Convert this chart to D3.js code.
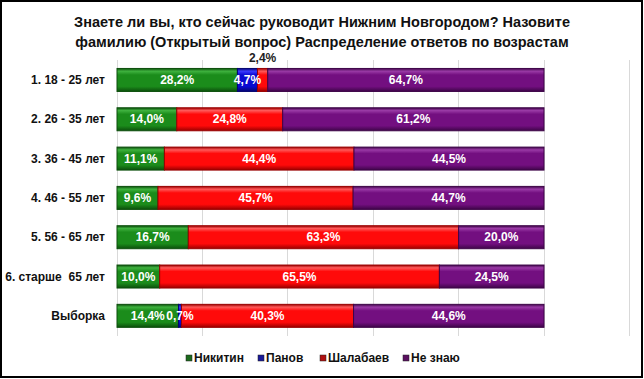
<!DOCTYPE html>
<html><head><meta charset="utf-8">
<script src="https://cdn.jsdelivr.net/npm/d3@7"></script>
<style>
html,body{margin:0;padding:0;background:#fff;}
svg{display:block;font-family:"Liberation Sans",Arial,sans-serif;}
text{white-space:pre;}
</style></head>
<body><svg id="c" width="644" height="379"></svg>
<script>
const titleLines = ["Знаете ли вы, кто сейчас руководит Нижним Новгородом? Назовите",
                    "фамилию (Открытый вопрос) Распределение ответов по возрастам"];
const categories = ["1. 18 - 25 лет","2. 26 - 35 лет","3. 36 - 45 лет","4. 46 - 55 лет","5. 56 - 65 лет","6. старше  65 лет","Выборка"];
const seriesNames = ["Никитин","Панов","Шалабаев","Не знаю"];
const nikitin   = [28.2,14.0,11.1, 9.6,16.7,10.0,14.4];
const panov     = [ 4.7, 0,   0,   0,   0,   0,   0.7];
const shalabaev = [ 2.4,24.8,44.4,45.7,63.3,65.5,40.3];
const neZnayu   = [64.7,61.2,44.5,44.7,20.0,24.5,44.6];
const xTicks = [0,20,40,60,80,100,120];

const seriesValues = [nikitin, panov, shalabaev, neZnayu];
const colors = ["#1b8c1b","#0a0ad2","#ff0a0a","#730f80"];
const lightColors = ["#3fb23f","#3a3aff","#ff5a5a","#9a3aa6"];
const darkColors = ["#0c4f0c","#050570","#9a0000","#3e0548"];
const legendColors = ["#1c6a1c","#1a1a99","#b01010","#5a1060"];

const svg = d3.select("#c");
const defs = svg.append("defs");
colors.forEach((c,i)=>{
  const g = defs.append("linearGradient").attr("id","g"+i).attr("x1",0).attr("y1",0).attr("x2",0).attr("y2",1);
  g.append("stop").attr("offset","0%").attr("stop-color",darkColors[i]);
  g.append("stop").attr("offset","12%").attr("stop-color",lightColors[i]);
  g.append("stop").attr("offset","28%").attr("stop-color",c);
  g.append("stop").attr("offset","78%").attr("stop-color",c);
  g.append("stop").attr("offset","100%").attr("stop-color",darkColors[i]);
});

// border
svg.append("rect").attr("x",1).attr("y",1).attr("width",641).attr("height",376)
  .attr("fill","#fff").attr("stroke","#000").attr("stroke-width",2);

// title
svg.append("g").selectAll("text").data(titleLines).join("text")
  .attr("x",322).attr("y",(d,i)=>27+i*20).attr("text-anchor","middle")
  .attr("font-size","14.5px").attr("font-weight","bold").attr("fill","#111").text(d=>d);

const x = d3.scaleLinear().domain([0,120]).range([117,629.4]);
const y = d3.scaleBand().domain(categories).range([60.3,335.5]).paddingInner(0.415).paddingOuter(0.2075);

// gridlines
svg.append("g").selectAll("line").data(xTicks).join("line")
  .attr("x1",d=>x(d)).attr("x2",d=>x(d)).attr("y1",60.3).attr("y2",335.5)
  .attr("stroke","#d9d9d9").attr("stroke-width",1).attr("shape-rendering","crispEdges");

// category labels
svg.append("g").selectAll("text").data(categories).join("text")
  .attr("x",105).attr("y",d=>y(d)+y.bandwidth()/2).attr("dy","0.35em")
  .attr("text-anchor","end").attr("font-size","12px").attr("font-weight","bold").attr("fill","#111")
  .text(d=>d);

// stacked data
const segs = [];
categories.forEach((cat,ci)=>{
  let acc = 0;
  seriesValues.forEach((vals,si)=>{
    const v = vals[ci];
    segs.push({cat, si, v, x0:acc, x1:acc+v});
    acc += v;
  });
});

const bars = svg.append("g");
bars.selectAll("rect").data(segs.filter(s=>s.v>0)).join("rect")
  .attr("x",d=>x(d.x0)).attr("width",d=>x(d.x1)-x(d.x0))
  .attr("y",d=>y(d.cat)).attr("height",y.bandwidth())
  .attr("fill",d=>"url(#g"+d.si+")")
  .attr("stroke",d=>darkColors[d.si]).attr("stroke-width",1);

const fmt = v => v.toFixed(1).replace(".",",")+"%";
const labels = svg.append("g");
labels.selectAll("text").data(segs.filter(s=>s.v>0)).join("text")
  .attr("x",d=>(x(d.x0)+x(d.x1))/2)
  .attr("y",d=>{
    const above = d.si===2 && d.v<5;
    return above ? y(d.cat)-11 : y(d.cat)+y.bandwidth()/2;
  })
  .attr("dy","0.35em").attr("text-anchor","middle")
  .attr("font-size","12px").attr("font-weight","bold")
  .attr("fill",d=>(d.si===2 && d.v<5) ? "#222" : "#fff")
  .text(d=>fmt(d.v));

// legend
const legendX = [186, 258, 320, 403];
const lg = svg.append("g").selectAll("g").data(seriesNames).join("g")
  .attr("transform",(d,i)=>`translate(${legendX[i]},358)`);
lg.append("rect").attr("x",0).attr("y",-3).attr("width",6).attr("height",6)
  .attr("fill",(d,i)=>legendColors[i]).attr("stroke","#222").attr("stroke-width",0.5);
lg.append("text").attr("x",8).attr("dy","0.35em").attr("font-size","12px").attr("font-weight","bold")
  .attr("fill","#111").text(d=>d);
</script></body></html>
